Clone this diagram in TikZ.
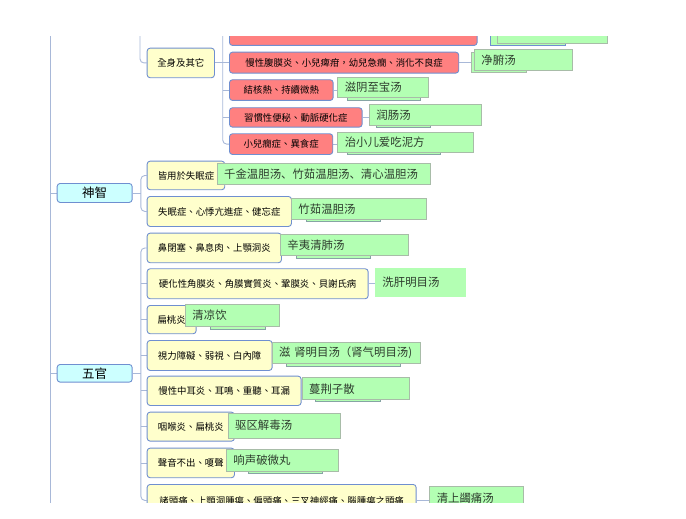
\documentclass[tikz,border=0pt]{standalone}
\usepackage{fontspec}
\newfontfamily\zhtc{Noto Sans CJK TC}
\newfontfamily\zhsc{Noto Sans CJK SC}
\usetikzlibrary{backgrounds}
\definecolor{linec}{HTML}{A8B8D8}
\definecolor{bordc}{HTML}{6F8FD0}
\definecolor{yfill}{HTML}{FFFFCC}
\definecolor{rfill}{HTML}{FF8080}
\definecolor{cfill}{HTML}{CCFFFF}
\definecolor{gfill}{HTML}{B3FFB3}
\definecolor{gbord}{HTML}{A8BCA8}
\definecolor{gshad}{HTML}{86A4A4}
\definecolor{gtext}{HTML}{2E3D2E}
\tikzset{
  conn/.style={draw=linec, line width=0.9pt, rounded corners=4pt},
  topic/.style={draw=bordc, line width=0.9pt, rounded corners=3pt, anchor=north west, inner sep=0pt, font=\zhtc\fontsize{9.4}{11}\selectfont},
  ybox/.style={topic, fill=yfill},
  rbox/.style={topic, fill=rfill},
  cbox/.style={topic, fill=cfill, font=\zhtc\fontsize{12.5}{14}\selectfont},
  gbox/.style={fill=gfill, draw=gbord, line width=0.9pt, anchor=north west, inner xsep=7pt, inner ysep=0pt, align=left, text=gtext, font=\zhsc\fontsize{11.4}{13}\selectfont},
  gback/.style={fill=gfill, draw=gshad, line width=0.9pt},
}
\begin{document}
\begin{tikzpicture}[x=1pt, y=-1pt]
  \useasboundingbox (0,0) rectangle (686,519);
  \begin{scope}
    \clip (0,37) rectangle (686,502);
    % boxes lying behind the green labels
    \draw[gback, draw=bordc] (490,14) rectangle (565,45);
    \draw[gback, draw=gbord] (471.7,52) rectangle (526.7,72.3);
    \draw[gback] (347.7,79.5) rectangle (420.7,100);
    \draw[gback] (376,107) rectangle (430,127.5);
    \draw[gback] (347,135) rectangle (440,154);
    \draw[gback] (306.7,201) rectangle (380,221.5);
    \draw[gback] (296.7,237) rectangle (370,258);
    \draw[gback] (210,307) rectangle (265,329);
    \draw[gback] (286.7,344.5) rectangle (400,366);
    \draw[gback] (315,380) rectangle (380,401.5);
    \draw[gback] (248,451) rectangle (322.7,473.5);

    % 全身及其它
    \node[ybox, minimum width=67.3, minimum height=29.6] (quan) at (146.7,47.7) {全身及其它};
    \node[rbox, minimum width=247.7, minimum height=25] (r1) at (229,20) {};
    \node[rbox, minimum width=229.3, minimum height=21] (r2) at (229,51.7) {慢性腹膜炎、小兒痺疳，幼兒急癇、消化不良症};
    \node[rbox, minimum width=103.7, minimum height=20.7] (r3) at (229,79.3) {結核熱、持續微熱};
    \node[rbox, minimum width=132.7, minimum height=19.4] (r4) at (229,107.3) {習慣性便秘、動脈硬化症};
    \node[rbox, minimum width=103.3, minimum height=20.7] (r5) at (229,133.3) {小兒癇症、異食症};
    \node[gbox, text width=96pt, minimum height=29.3] (g1) at (496.7,14) {};
    \node[gbox, text width=83.7pt, minimum height=20.7] (g2) at (474,49.3) {净腑汤};
    \node[gbox, text width=77pt, minimum height=20.6] (g3) at (337.3,76.7) {滋阴至宝汤};
    \node[gbox, text width=98pt, minimum height=20.7] (g4) at (369,104.3) {润肠汤};
    \node[gbox, text width=122pt, minimum height=19.4] (g5) at (337.3,132.3) {治小儿爱吃泥方};

    % 神智
    \node[cbox, minimum width=75, minimum height=19] (shen) at (56.7,183) {神智};
    \node[ybox, minimum width=77.6, minimum height=28.6] (s1) at (146.7,160.7) {皆用於失眠症};
    \node[gbox, text width=199.3pt, minimum height=21] (sg1) at (216.7,163.3) {千金温胆汤、竹茹温胆汤、清心温胆汤};
    \node[ybox, minimum width=144.3, minimum height=30] (s2) at (146.7,196) {失眠症、心悸亢進症、健忘症};
    \node[gbox, text width=120.7pt, minimum height=21] (sg2) at (291,198.3) {竹茹温胆汤};

    % 五官
    \node[cbox, minimum width=75, minimum height=17.7] (wu) at (56.7,364) {五官};
    \node[ybox, minimum width=134.3, minimum height=29.6] (w1) at (146.7,232.7) {鼻閉塞、鼻息肉、上顎洞炎};
    \node[gbox, text width=114.3pt, minimum height=20.7] (wg1) at (280,234.3) {辛夷清肺汤};
    \node[ybox, minimum width=221, minimum height=30] (w2) at (146.7,268.3) {硬化性角膜炎、角膜實質炎、鞏膜炎、貝謝氏病};
    \node[gbox, draw=none, text width=77pt, minimum height=29] (wg2) at (375,267.7) {洗肝明目汤\\[6pt]};
    \node[ybox, minimum width=49, minimum height=28.3] (w3) at (146.7,305) {扁桃炎};
    \node[gbox, text width=80.3pt, minimum height=21.7] (wg3) at (185,304.3) {清凉饮};
    \node[ybox, minimum width=125, minimum height=30] (w4) at (146.7,340) {視力障礙、弱視、白內障};
    \node[gbox, text width=134.3pt, minimum height=21.6] (wg4) at (271.7,341.7) {滋 肾明目汤（肾气明目汤)};
    \node[ybox, minimum width=154, minimum height=29.3] (w5) at (146.7,375.7) {慢性中耳炎、耳鳴、重聽、耳漏};
    \node[gbox, text width=93.3pt, minimum height=22] (wg5) at (301.7,377.3) {蔓荆子散};
    \node[ybox, minimum width=87.3, minimum height=29] (w6) at (146.7,411.7) {咽喉炎、扁桃炎};
    \node[gbox, text width=98.3pt, minimum height=25] (wg6) at (227.7,412.7) {驱区解毒汤};
    \node[ybox, minimum width=87.3, minimum height=29.6] (w7) at (146.7,447.7) {聲音不出、嗄聲};
    \node[gbox, text width=97.7pt, minimum height=22] (wg7) at (226,448.7) {响声破微丸};
    \node[ybox, minimum width=269, minimum height=32] (w8) at (146.7,484) {諸頭痛、上顎洞腫瘍、偏頭痛、三叉神經痛、腦腫瘍之頭痛};
    \node[gbox, text width=80pt, minimum height=24] (wg8) at (429.3,485.7) {清上蠲痛汤};
  \end{scope}

  \begin{pgfonlayer}{background}
    \clip (0,37) rectangle (686,502);
    \coordinate (trunk) at (50,0);
    \coordinate (qtop) at (140,0);
    \coordinate (rtop) at (222.7,0);
    \draw[conn] (trunk) -- (50,519);
    \draw[conn] (shen.west -| trunk) -- (shen.west);
    \draw[conn] (wu.west -| trunk) -- (wu.west);
    % 全身及其它
    \draw[conn] (qtop) |- (quan.west);
    \draw[conn] (quan.east) -- (quan.east -| rtop);
    \draw[conn] (rtop) |- (r5.west);
    \foreach \n in {r1,r2,r3,r4}
      \draw[conn] (\n.west -| rtop) -- (\n.west);
    % 神智
    \draw[conn] (shen.east) -- ++(8.3,0) coordinate (sj);
    \draw[conn] (s1.west) -| (sj) |- (s2.west);
    % 五官
    \draw[conn] (wu.east) -- ++(8.3,0) coordinate (wj);
    \draw[conn] (w1.west) -| (wj) |- (w8.west);
    \foreach \n in {w2,w3,w4,w5,w6,w7}
      \draw[conn] (\n.west -| wj) -- (\n.west);
    % to the formulas
    \foreach \a/\b in {r1/g1,r2/g2,r3/g3,r4/g4,r5/g5,s1/sg1,s2/sg2,w1/wg1,w2/wg2,w3/wg3,w4/wg4,w5/wg5,w6/wg6,w7/wg7,w8/wg8}
      \draw[conn] (\a.east) -- (\a.east -| \b.west);
  \end{pgfonlayer}
\end{tikzpicture}
\end{document}
